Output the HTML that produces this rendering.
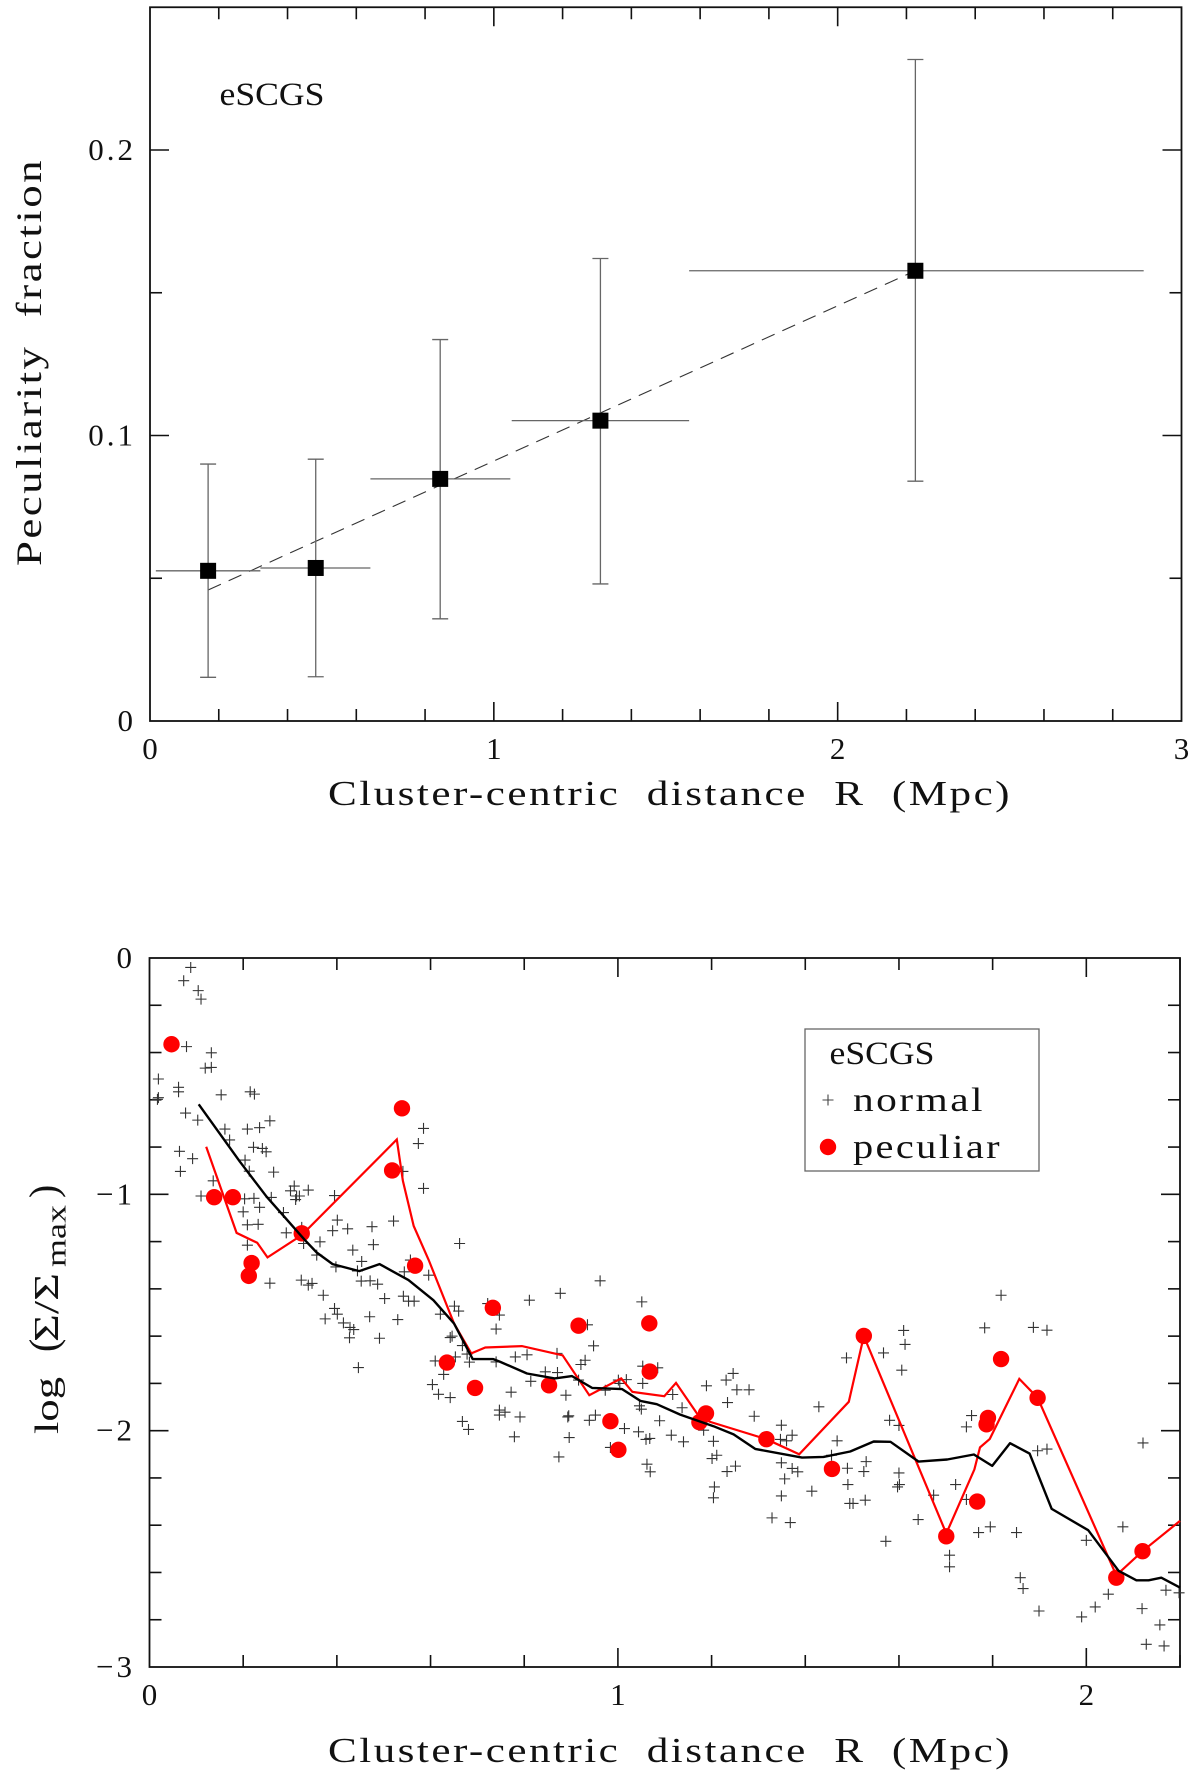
<!DOCTYPE html>
<html lang="en">
<head>
<meta charset="utf-8">
<title>Peculiarity fraction and local density vs cluster-centric distance</title>
<style>
html,body{margin:0;padding:0;background:#fff;}
svg{display:block;}
text{font-family:"Liberation Serif","DejaVu Serif",serif;fill:#111;white-space:pre;letter-spacing:2px;}
text.tight{letter-spacing:0;}
</style>
</head>
<body>
<svg id="chart" xmlns="http://www.w3.org/2000/svg" width="1200" height="1790" viewBox="0 0 1200 1790">
  <rect x="0" y="0" width="1200" height="1790" fill="#fff"/>
  <g id="top-panel"></g>
  <g id="bottom-panel"></g>

  <text class="tight" x="219.5" y="105" font-size="33" textLength="105" lengthAdjust="spacingAndGlyphs">eSCGS</text>
  <text x="328" y="805" font-size="35" textLength="684" lengthAdjust="spacingAndGlyphs">Cluster-centric  distance  R  (Mpc)</text>
  <text transform="translate(41,566) rotate(-90)" font-size="36" textLength="408" lengthAdjust="spacingAndGlyphs">Peculiarity  fraction</text>

  <text x="328" y="1762" font-size="35" textLength="684" lengthAdjust="spacingAndGlyphs">Cluster-centric  distance  R  (Mpc)</text>
  <g>
    <text class="tight" transform="translate(58,1434) rotate(-90)" font-size="34" textLength="57" lengthAdjust="spacingAndGlyphs">log</text>
    <text class="tight" transform="translate(57,1352) rotate(-90)" font-size="40" font-weight="normal">(</text>
    <text class="tight" transform="translate(58,1342) rotate(-90)" font-size="35" textLength="69" lengthAdjust="spacingAndGlyphs">Σ/Σ</text>
    <text class="tight" transform="translate(65.5,1267) rotate(-90)" font-size="28" textLength="62" lengthAdjust="spacingAndGlyphs">max</text>
    <text class="tight" transform="translate(57,1198) rotate(-90)" font-size="40">)</text>
  </g>

  <g>
    <rect x="805" y="1029" width="234" height="142" fill="none" stroke="#666" stroke-width="1.3"/>
    <text class="tight" x="829.5" y="1064" font-size="33" textLength="105" lengthAdjust="spacingAndGlyphs">eSCGS</text>
    <path d="M822.5 1100H833.5M828 1094.5V1105.5" stroke="#444" stroke-width="1.1" fill="none"/>
    <text x="853" y="1111" font-size="34" textLength="132" lengthAdjust="spacingAndGlyphs">normal</text>
    <circle cx="828" cy="1147" r="8.2" fill="#f00"/>
    <text x="853" y="1158" font-size="34" textLength="149" lengthAdjust="spacingAndGlyphs">peculiar</text>
  </g>
</svg>

<script>
// ---------- top panel data ----------
const binCentres = [0.169, 0.482, 0.844, 1.31, 2.226];
const binLow = [0.017, 0.321, 0.641, 1.052, 1.568];
const binHigh = [0.321, 0.641, 1.048, 1.568, 2.89];
const fractions = [0.0526, 0.0536, 0.0848, 0.1052, 0.1577];
const fractionErrLow = [0.0153, 0.0155, 0.0358, 0.048, 0.084];
const fractionErrHigh = [0.090, 0.0917, 0.1336, 0.162, 0.2317];
const fitR = [0.169, 2.226];
const fitFraction = [0.0459, 0.1577];
const topXMajorLabels = ["0", "1", "2", "3"];
const topYMajorLabels = ["0", "0.1", "0.2"];

// ---------- bottom panel data ([R, log sigma]) ----------
const normalPoints = [
[.088,-.040],[.073,-.096],[.104,-.138],[.110,-.174],[.079,-.375],[.132,-.401],[.119,-.466],[.132,-.463],[.019,-.512],[.062,-.547],
[.062,-.566],[.019,-.591],[.017,-.598],[.153,-.579],[.215,-.566],[.224,-.576],[.077,-.656],[.103,-.686],[.161,-.724],[.209,-.724],
[.235,-.718],[.257,-.689],[.171,-.770],[.064,-.818],[.222,-.801],[.241,-.806],[.249,-.820],[.092,-.849],[.204,-.855],[.585,-.721],
[.574,-.785],[.066,-.903],[.213,-.902],[.265,-.906],[.541,-.903],[.136,-.943],[.585,-.975],[.110,-1.007],[.203,-1.019],[.223,-1.017],
[.260,-1.013],[.309,-.965],[.301,-.985],[.339,-.982],[.314,-1.007],[.320,-1.007],[.395,-1.005],[.312,-1.022],[.235,-1.055],[.200,-1.074],
[.286,-1.077],[.209,-1.129],[.232,-1.127],[.401,-1.109],[.391,-1.154],[.423,-1.146],[.475,-1.137],[.521,-1.113],[.292,-1.163],[.325,-1.14],
[.209,-1.215],[.329,-1.208],[.364,-1.201],[.434,-1.236],[.478,-1.213],[.662,-1.208],[.357,-1.257],[.453,-1.284],[.398,-1.307],[.444,-1.324],
[.557,-1.278],[.544,-1.328],[.596,-1.342],[.257,-1.376],[.324,-1.363],[.339,-1.384],[.347,-1.377],[.452,-1.367],[.471,-1.366],[.487,-1.380],
[.371,-1.427],[.502,-1.441],[.542,-1.431],[.553,-1.452],[.565,-1.452],[.395,-1.483],[.401,-1.507],[.470,-1.518],[.375,-1.527],[.530,-1.530],
[.414,-1.544],[.428,-1.563],[.436,-1.572],[.427,-1.607],[.491,-1.609],[.446,-1.733],[.651,-1.473],[.660,-1.494],[.621,-1.507],[.646,-1.600],
[.642,-1.606],[.668,-1.640],[.678,-1.676],[.653,-1.688],[.610,-1.705],[.683,-1.710],[.628,-1.762],[.604,-1.805],[.617,-1.846],[.642,-1.860],
[.668,-1.961],[.681,-1.995],[.722,-1.462],[.747,-1.511],[.740,-1.570],[.740,-1.709],[.747,-1.913],[.747,-1.934],[.759,-1.922],
[.962,-1.366],[.877,-1.419],[.811,-1.448],[1.051,-1.455],[.935,-1.552],[.948,-1.641],[.870,-1.673],[.781,-1.688],[.806,-1.679],[.930,-1.702],
[.921,-1.720],[1.053,-1.727],[1.085,-1.734],[.845,-1.751],[.871,-1.754],[.814,-1.791],[1.001,-1.786],[1.018,-1.784],[.916,-1.786],[1.053,-1.800],
[.772,-1.837],[.889,-1.850],[.973,-1.829],[1.004,-1.800],[1.117,-1.847],[1.046,-1.895],[1.050,-1.909],[1.137,-1.903],[.791,-1.942],[.895,-1.937],
[.893,-1.942],[.952,-1.934],[.939,-1.956],[1.089,-1.958],[1.014,-1.991],[1.044,-2.005],[.779,-2.026],[.896,-2.029],[1.060,-2.037],[1.068,-2.033],
[1.114,-2.019],[1.140,-2.047],[.874,-2.111],[.984,-2.071],[1.062,-2.142],[1.069,-2.174],[1.189,-1.810],[1.231,-1.786],[1.246,-1.758],[1.254,-1.827],
[1.280,-1.827],[1.234,-1.881],[1.291,-1.939],[1.349,-1.977],[1.204,-2.045],[1.372,-2.019],[1.347,-2.037],[1.360,-2.043],[1.211,-2.104],[1.201,-2.118],
[1.251,-2.150],[1.233,-2.173],[1.349,-2.136],[1.372,-2.160],[1.384,-2.174],[1.356,-2.204],[1.206,-2.238],[1.204,-2.284],[1.349,-2.276],[1.414,-2.256],
[1.329,-2.369],[1.368,-2.389],[1.429,-1.899],[1.468,-2.043],[1.456,-2.104],[1.488,-1.692],[1.490,-2.159],[1.491,-2.228],[1.495,-2.308],[1.183,-1.998],
[1.818,-1.427],[1.783,-1.565],[1.887,-1.563],[1.916,-1.575],[1.610,-1.576],[1.613,-1.635],[1.567,-1.671],[1.606,-1.744],[1.580,-1.956],[1.600,-1.978],
[1.755,-1.936],[1.744,-1.984],[1.896,-2.085],[1.916,-2.078],[1.530,-2.131],[1.525,-2.173],[1.600,-2.179],[1.601,-2.228],[1.597,-2.238],[1.721,-2.228],
[1.674,-2.273],[1.744,-2.291],[1.502,-2.308],[1.528,-2.294],[1.641,-2.376],[2.121,-2.052],
[1.572,-2.468],[1.708,-2.527],[1.708,-2.576],[1.770,-2.431],[1.795,-2.407],[1.851,-2.431],[1.859,-2.622],[1.865,-2.668],[1.899,-2.763],[2.000,-2.464],
[2.078,-2.407],[1.990,-2.788],[2.019,-2.746],[2.047,-2.692],[2.119,-2.753],[2.170,-2.675],[2.198,-2.686],[2.157,-2.822],[2.128,-2.904],[2.166,-2.911]
];
const peculiarPoints = [
[.047,-.365],[.539,-.636],[.518,-.899],[.138,-1.012],[.178,-1.012],[.325,-1.165],[.218,-1.291],[.212,-1.345],[.567,-1.302],[.733,-1.480],
[.635,-1.712],[.695,-1.819],[.916,-1.556],[1.067,-1.546],[1.068,-1.750],[.853,-1.808],[.984,-1.960],[1.001,-2.081],[1.188,-1.927],[1.174,-1.964],
[1.317,-2.036],[1.457,-2.162],[1.525,-1.599],[1.818,-1.697],[1.896,-1.861],[1.790,-1.946],[1.787,-1.973],[1.767,-2.300],[1.701,-2.447],[2.064,-2.622],[2.120,-2.510]
];
const peculiarTrend = [
[.121,-.799],[.186,-1.163],[.230,-1.205],[.252,-1.267],[.325,-1.173],[.528,-.768],[.541,-.943],[.564,-1.134],[.596,-1.278],[.650,-1.546],
[.687,-1.673],[.717,-1.648],[.795,-1.642],[.882,-1.681],[.939,-1.850],[1.007,-1.779],[1.031,-1.836],[1.099,-1.854],[1.124,-1.798],[1.174,-1.942],
[1.197,-1.963],[1.317,-2.036],[1.387,-2.100],[1.493,-1.878],[1.525,-1.600],[1.701,-2.435],[1.761,-2.164],[1.773,-2.071],[1.794,-2.035],[1.857,-1.781],
[1.896,-1.861],[2.064,-2.612],[2.120,-2.510],[2.2,-2.382]
];
const normalTrend = [
[.105,-.619],[.193,-.862],[.250,-1.010],[.332,-1.194],[.357,-1.246],[.391,-1.295],[.448,-1.325],[.491,-1.295],[.553,-1.363],[.606,-1.448],
[.650,-1.546],[.690,-1.697],[.734,-1.697],[.749,-1.709],[.806,-1.758],[.865,-1.779],[.902,-1.769],[.945,-1.819],[1.009,-1.824],[1.048,-1.874],
[1.083,-1.888],[1.133,-1.932],[1.204,-1.981],[1.247,-2.016],[1.293,-2.077],[1.393,-2.114],[1.439,-2.111],[1.496,-2.088],[1.546,-2.046],[1.582,-2.047],
[1.642,-2.131],[1.703,-2.122],[1.760,-2.101],[1.799,-2.149],[1.837,-2.053],[1.879,-2.097],[1.926,-2.331],[2.004,-2.421],[2.069,-2.593],[2.107,-2.633],
[2.133,-2.633],[2.160,-2.622],[2.2,-2.664]
];
const bottomXMajorLabels = ["0", "1", "2"];
const bottomYMajorLabels = ["0", "\u22121", "\u22122", "\u22123"];

// ---------- axis functions ----------
const NS = "http://www.w3.org/2000/svg";
const topBox = {l:150, r:1181.5, t:7.25, b:721};
const botBox = {l:149.5, r:1180, t:958, b:1667};
function topX(v){ return topBox.l + (v/3)*(topBox.r-topBox.l); }
function topY(v){ return topBox.b - (v/0.25)*(topBox.b-topBox.t); }
function botX(v){ return botBox.l + (v/2.2)*(botBox.r-botBox.l); }
function botY(v){ return botBox.t + (-v/3)*(botBox.b-botBox.t); }

const topPanel = document.getElementById("top-panel");
const botPanel = document.getElementById("bottom-panel");

function make(tag, parent, props){
  const el = document.createElementNS(NS, tag);
  for (const k in props) el.setAttribute(k, props[k]);
  parent.appendChild(el);
  return el;
}
function seg(parent, x1, y1, x2, y2, stroke, width){
  return make("line", parent, {x1:x1, y1:y1, x2:x2, y2:y2, stroke:stroke, "stroke-width":width});
}
function label(parent, x, y, anchor, text){
  const el = make("text", parent, {x:x, y:y, "text-anchor":anchor, "font-size":31});
  el.textContent = text;
  el.style.letterSpacing = "0";
  if (text.length > 1) {
    el.style.letterSpacing = "3px";
    el.setAttribute("x", x + 3);
  }
  return el;
}

function drawFrame(parent, box){
  const fr = make("rect", parent, {x:box.l, y:box.t, width:box.r-box.l, height:box.b-box.t, fill:"none", stroke:"#111", "stroke-width":1.8});
  
  
}
function drawTicks(parent, box, xf, yf, xmax, xstep, xEvery, ymin, ymax, ystep, yEvery){
  const group = make("g", parent, {});
  
  
  const nx = Math.round(xmax/xstep);
  for (let i=1;i<=nx;i++){
    const v = i*xstep;
    if (Math.abs(v-xmax)<1e-6 && xEvery && i%xEvery===0) continue;
    const len = i%xEvery===0 ? 19 : 12;
    const x = xf(v);
    seg(group, x, box.b, x, box.b-len, "#111", 1.6);
    seg(group, x, box.t, x, box.t+len, "#111", 1.6);
  }
  const ny = Math.round((ymax-ymin)/ystep);
  for (let i=1;i<ny;i++){
    const v = ymin + i*ystep;
    const len = i%yEvery===0 ? 19 : 12;
    const y = yf(v);
    seg(group, box.l, y, box.l+len, y, "#111", 1.6);
    seg(group, box.r, y, box.r-len, y, "#111", 1.6);
  }
}

// ---------- top panel ----------
drawFrame(topPanel, topBox);
drawTicks(topPanel, topBox, topX, topY, 3, 0.2, 5, 0, 0.25, 0.05, 2);

topXMajorLabels.forEach(function(t){
  const el = label(topPanel, topX(parseFloat(t)), 759, "middle", t);
  
  
});
topYMajorLabels.forEach(function(t){
  const el = label(topPanel, 133, topY(parseFloat(t))+10, "end", t);
  
  
});

const fit = make("line", topPanel, {x1:topX(fitR[0]), y1:topY(fitFraction[0]), x2:topX(fitR[1]), y2:topY(fitFraction[1]), stroke:"#333", "stroke-width":1.1, "stroke-dasharray":"14 8.5"});



binCentres.forEach(function(r, i){
  const g = make("g", topPanel, {});
  
  
  const x = topX(r), y = topY(fractions[i]);
  const yl = topY(fractionErrLow[i]), yh = topY(fractionErrHigh[i]);
  seg(g, topX(binLow[i]), y, topX(binHigh[i]), y, "#666", 1.3);
  seg(g, x, yl, x, yh, "#666", 1.3);
  seg(g, x-8, yl, x+8, yl, "#666", 1.3);
  seg(g, x-8, yh, x+8, yh, "#666", 1.3);
  make("rect", g, {x:x-8, y:y-8, width:16, height:16, fill:"#000"});
});

// ---------- bottom panel ----------
drawFrame(botPanel, botBox);
drawTicks(botPanel, botBox, botX, botY, 2.2, 0.2, 5, -3, 0, 0.2, 5);

bottomXMajorLabels.forEach(function(t){
  const el = label(botPanel, botX(parseFloat(t)), 1705, "middle", t);
  
  
});
bottomYMajorLabels.forEach(function(t, i){
  const el = label(botPanel, 132, botY(-i)+10, "end", t);
  
  
});

const normalGroup = make("g", botPanel, {});


normalPoints.forEach(function(p){
  const x = botX(p[0]), y = botY(p[1]);
  const m = make("path", normalGroup, {d:"M"+(x-5.5)+" "+y+"H"+(x+5.5)+"M"+x+" "+(y-5.5)+"V"+(y+5.5), stroke:"#333", "stroke-width":1.1, fill:"none"});
  
  
});

function pathFrom(points){
  return points.map(function(p){ return botX(p[0]).toFixed(1)+","+botY(p[1]).toFixed(1); }).join(" ");
}
const redLine = make("polyline", botPanel, {points:pathFrom(peculiarTrend), fill:"none", stroke:"#f00", "stroke-width":2.2, "stroke-linejoin":"miter"});



const peculiarGroup = make("g", botPanel, {});


peculiarPoints.forEach(function(p){
  const c = make("circle", peculiarGroup, {cx:botX(p[0]), cy:botY(p[1]), r:8.2, fill:"#f00"});
  
  
});

const blackLine = make("polyline", botPanel, {points:pathFrom(normalTrend), fill:"none", stroke:"#000", "stroke-width":2.4, "stroke-linejoin":"round"});


</script>
</body>
</html>
